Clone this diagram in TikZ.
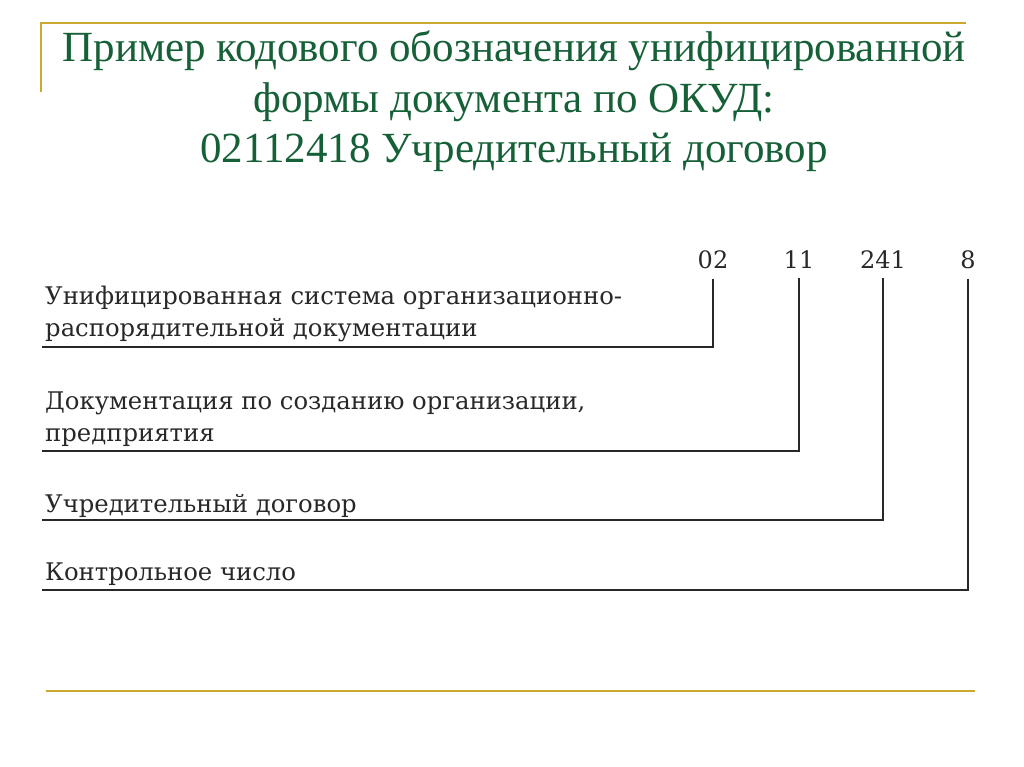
\documentclass[tikz,border=0pt]{standalone}
\usepackage{fontspec}
\setmainfont{Liberation Serif}
\newfontfamily\labelfont{DejaVu Serif}
\usetikzlibrary{positioning}
\definecolor{titlegreen}{RGB}{22,96,56}
\definecolor{goldline}{RGB}{204,168,48}
\definecolor{inkgray}{RGB}{40,40,40}
\tikzset{
  codenum/.style={anchor=base, inner sep=0pt, font=\labelfont\fontsize{24}{24}\selectfont, text=inkgray},
  codelabel/.style={anchor=base west, inner sep=0pt, align=left, font=\labelfont\fontsize{24.3}{32}\selectfont, text=inkgray},
  codeline/.style={draw=inkgray, line width=1.6pt},
  frameline/.style={draw=goldline, line width=1.8pt}
}
\begin{document}
\begin{tikzpicture}[x=1pt,y=-1pt]
	\useasboundingbox (0,0) rectangle (1024,767);

	%gold frame
	\draw[frameline] (41,92) -- (41,23) -- (966,23);
	\draw[frameline] (46,691) -- (975,691);

	%title (base = last line)
	\node[anchor=base, inner sep=0pt, text=titlegreen, align=center,
		font=\fontsize{43}{50.5}\selectfont] (title) at (514,163)
		{Пример кодового обозначения унифицированной\\
		 формы документа по ОКУД:\\
		 02112418 Учредительный договор};

	%code parts
	\node[codenum] (c02)  at (713,268) {02};
	\node[codenum] (c11)  at (799,268) {11};
	\node[codenum] (c241) at (883,268) {241};
	\node[codenum] (c8)   at (968,268) {8};

	%their meanings (base = last line)
	\node[codelabel] (l02)  at (45,336) {Унифицированная система организационно-\\распорядительной документации};
	\node[codelabel] (l11)  at (45,441) {Документация по созданию организации,\\предприятия};
	\node[codelabel] (l241) at (45,512) {Учредительный договор};
	\node[codelabel] (l8)   at (45,580) {Контрольное число};

	\coordinate (e02)  at (42,347);
	\coordinate (e11)  at (42,451);
	\coordinate (e241) at (42,520);
	\coordinate (e8)   at (42,590);

	%connectors
	\draw[codeline] ([yshift=-10pt]c02.south)  |- (e02);
	\draw[codeline] ([yshift=-10pt]c11.south)  |- (e11);
	\draw[codeline] ([yshift=-10pt]c241.south) |- (e241);
	\draw[codeline] ([yshift=-10pt]c8.south)   |- (e8);

\end{tikzpicture}
\end{document}
